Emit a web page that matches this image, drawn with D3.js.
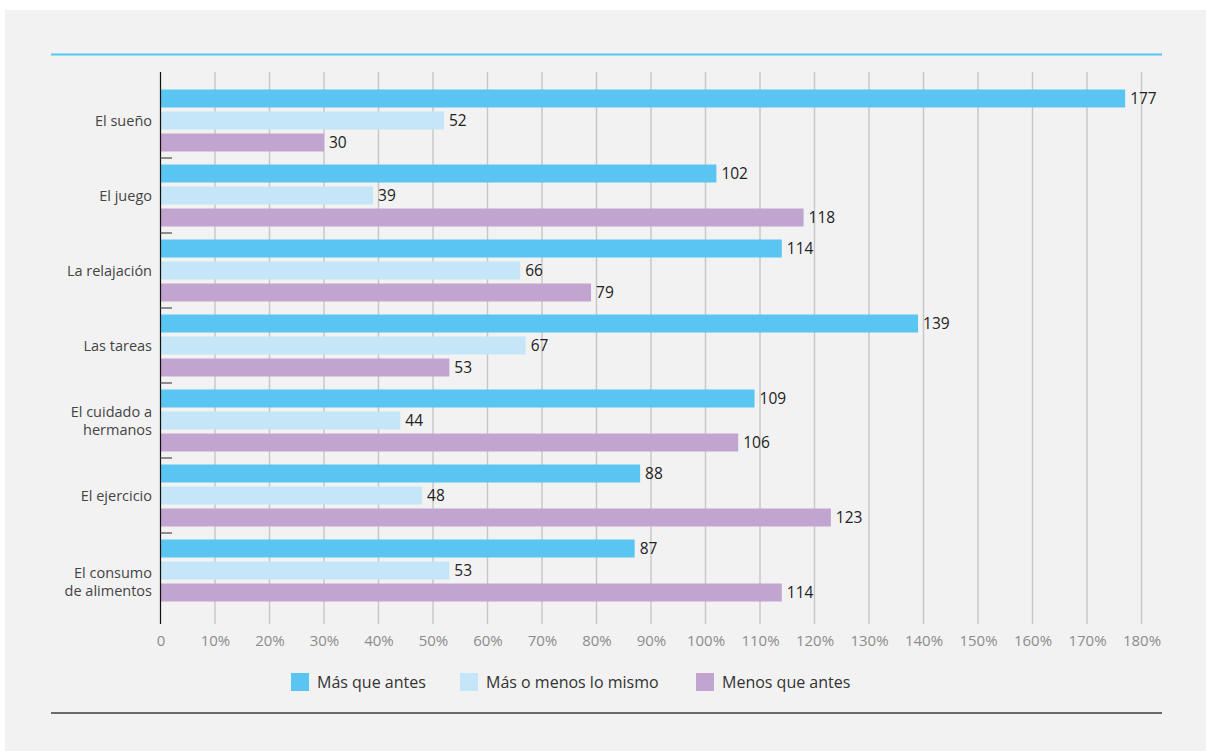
<!DOCTYPE html>
<html lang="es">
<head>
<meta charset="utf-8">
<script src="https://cdn.jsdelivr.net/npm/d3@7"></script>
<style>
  html, body { margin: 0; padding: 0; background: #ffffff; }
  svg { display: block; font-family: "Open Sans", "Noto Sans", sans-serif; }
</style>
</head>
<body>
<svg id="chart" width="1206" height="751"></svg>
<script>
// Categorías (cada una puede ocupar dos líneas)
const categories = [
  ["El sueño"],
  ["El juego"],
  ["La relajación"],
  ["Las tareas"],
  ["El cuidado a", "hermanos"],
  ["El ejercicio"],
  ["El consumo", "de alimentos"]
];
const seriesNames = ["Más que antes", "Más o menos lo mismo", "Menos que antes"];
const masQueAntes    = [177, 102, 114, 139, 109, 88, 87];
const masOMenosIgual = [52, 39, 66, 67, 44, 48, 53];
const menosQueAntes  = [30, 118, 79, 53, 106, 123, 114];
const xTicks = [0, 10, 20, 30, 40, 50, 60, 70, 80, 90, 100, 110, 120, 130, 140, 150, 160, 170, 180];
const colors = ["#5bc5f1", "#c5e5f8", "#c2a4d0"];

const seriesValues = [masQueAntes, masOMenosIgual, menosQueAntes];

const svg = d3.select("#chart");

// Panel de fondo
svg.append("rect").attr("x", 5).attr("y", 10).attr("width", 1201).attr("height", 741).attr("fill", "#f2f2f2");

// Línea superior y línea inferior
svg.append("line").attr("x1", 51).attr("x2", 1162).attr("y1", 54.5).attr("y2", 54.5)
  .attr("stroke", "#52c7ee").attr("stroke-width", 2);
svg.append("line").attr("x1", 51).attr("x2", 1162).attr("y1", 713).attr("y2", 713)
  .attr("stroke", "#6a6a6a").attr("stroke-width", 2);

const plotTop = 72, plotBottom = 624;

const x = d3.scaleLinear().domain([0, 180]).range([160.5, 1141.5]);
const y = d3.scaleBand().domain(d3.range(categories.length)).range([83, 608]).padding(0);
const ySub = d3.scaleBand().domain(d3.range(seriesNames.length))
  .range([6.5, y.bandwidth() - 6.5]).paddingInner(4 / 22).paddingOuter(0);

// Rejilla vertical
svg.append("g").selectAll("line")
  .data(xTicks.filter(d => d > 0))
  .join("line")
  .attr("x1", d => x(d)).attr("x2", d => x(d))
  .attr("y1", plotTop).attr("y2", plotBottom)
  .attr("stroke", "#c6c6c6").attr("stroke-width", 1.4);

// Etiquetas del eje X
const xAxis = d3.axisBottom(x).tickValues(xTicks).tickSize(0).tickPadding(0)
  .tickFormat(d => d === 0 ? "0" : d + "%");
const gx = svg.append("g").attr("transform", `translate(0, 646)`).call(xAxis);
gx.select(".domain").remove();
gx.selectAll("text").attr("dy", 0).attr("y", 0)
  .attr("font-size", 15).attr("fill", "#8c8c8c")
  .attr("font-family", "'Open Sans', sans-serif");

// Barras con su valor al final
const groups = svg.append("g").selectAll("g")
  .data(categories.map((c, i) => i))
  .join("g")
  .attr("transform", i => `translate(0, ${y(i)})`);

groups.each(function (i) {
  const g = d3.select(this);
  seriesValues.forEach((vals, s) => {
    g.append("rect")
      .attr("x", x(0))
      .attr("y", ySub(s))
      .attr("width", x(vals[i]) - x(0))
      .attr("height", ySub.bandwidth())
      .attr("fill", colors[s]);
    g.append("text")
      .attr("x", x(vals[i]) + 5)
      .attr("y", ySub(s) + ySub.bandwidth() / 2)
      .attr("dy", "0.36em")
      .attr("font-size", 15.5)
      .attr("fill", "#222")
      .text(vals[i]);
  });
});

// Eje Y: línea y marcas entre grupos
svg.append("line").attr("x1", 160.5).attr("x2", 160.5).attr("y1", plotTop).attr("y2", plotBottom)
  .attr("stroke", "#111").attr("stroke-width", 1.2);
svg.append("g").selectAll("line")
  .data(d3.range(1, categories.length))
  .join("line")
  .attr("x1", 160.5).attr("x2", 172)
  .attr("y1", i => y(i)).attr("y2", i => y(i))
  .attr("stroke", "#555").attr("stroke-width", 1.3);

// Etiquetas de categorías (la última, de dos líneas, baja hacia su barra inferior)
const lineH = 18;
const lastIdx = categories.length - 1;
svg.append("g").selectAll("text")
  .data(categories)
  .join("text")
  .attr("text-anchor", "end")
  .attr("font-size", 14.5)
  .attr("fill", "#444")
  .each(function (lines, i) {
    const shift = i === lastIdx ? 11 : 0;
    const cy = y(i) + ySub(1) + ySub.bandwidth() / 2 + shift;
    const t = d3.select(this);
    lines.forEach((ln, k) => {
      t.append("tspan")
        .attr("x", 152)
        .attr("y", cy + (k - (lines.length - 1) / 2) * lineH)
        .attr("dy", "0.36em")
        .text(ln);
    });
  });

// Leyenda
const legendX = [291, 460, 696];
const legend = svg.append("g").selectAll("g")
  .data(seriesNames)
  .join("g")
  .attr("transform", (d, i) => `translate(${legendX[i]}, 673)`);
legend.append("rect").attr("width", 18).attr("height", 18).attr("fill", (d, i) => colors[i]);
legend.append("text").attr("x", 26).attr("y", 9).attr("dy", "0.36em")
  .attr("font-size", 16).attr("fill", "#333").text(d => d);
</script>
</body>
</html>
